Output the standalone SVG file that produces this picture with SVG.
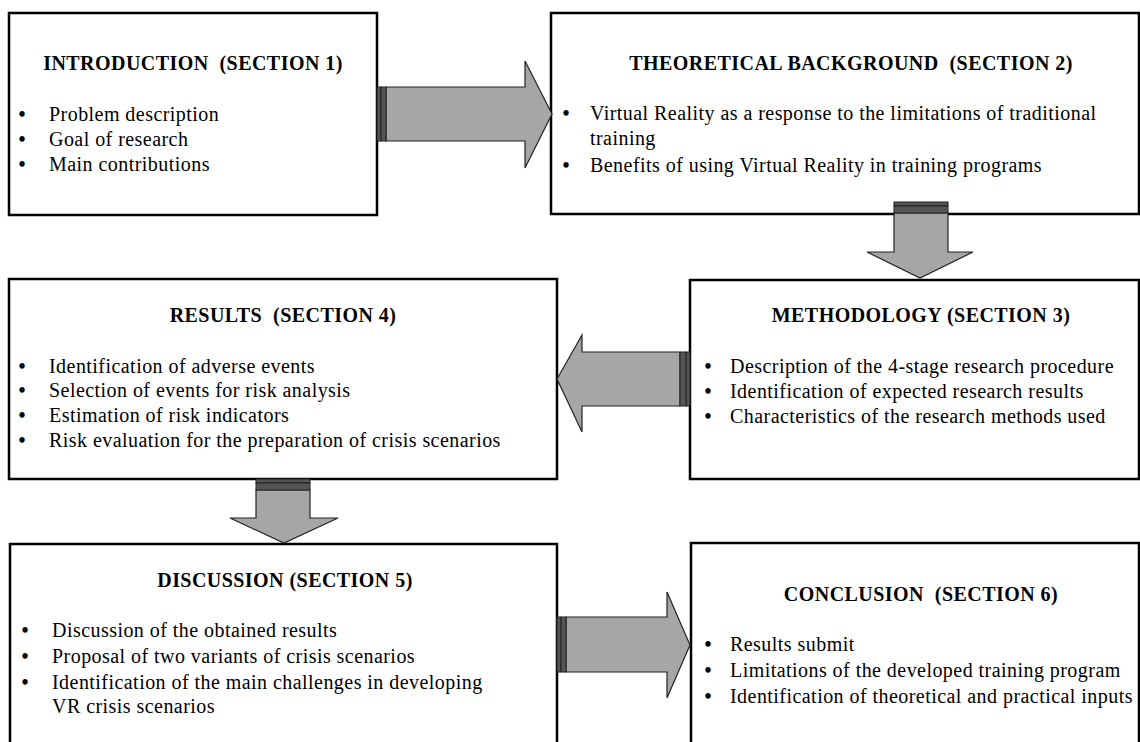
<svg xmlns="http://www.w3.org/2000/svg" width="1140" height="742" viewBox="0 0 1140 742">
<style>
.box{fill:#fff;stroke:#000;stroke-width:2.5}
.t{font-family:"Liberation Serif","Times New Roman",serif;font-size:20px;letter-spacing:0.45px;fill:#000}
.b{font-family:"Liberation Serif","Times New Roman",serif;font-size:20px;font-weight:bold;fill:#000;text-anchor:middle}
.h{font-family:"Liberation Serif","Times New Roman",serif;font-size:20px;letter-spacing:0.45px;font-weight:bold;fill:#000;text-anchor:middle}
.arr{fill:#a6a6a6;stroke:#222;stroke-width:1.2}
.st{fill:#555;stroke:#222;stroke-width:1}
</style>
<rect width="1140" height="742" fill="#fff"/>
<g id="n1">
<rect class="box" x="9" y="13" width="368" height="202"/>
<text class="h" x="193" y="70">INTRODUCTION &#160;(SECTION 1)</text>
<text class="b" x="22" y="121">•</text><text class="t" x="49" y="121">Problem description</text>
<text class="b" x="22" y="146">•</text><text class="t" x="49" y="146">Goal of research</text>
<text class="b" x="22" y="171">•</text><text class="t" x="49" y="171">Main contributions</text>
</g>
<g id="n2">
<rect class="box" x="551" y="13" width="588" height="201"/>
<text class="h" x="851" y="70">THEORETICAL BACKGROUND &#160;(SECTION 2)</text>
<text class="b" x="566" y="120">•</text><text class="t" x="590" y="120">Virtual Reality as a response to the limitations of traditional</text>
<text class="t" x="590" y="145">training</text>
<text class="b" x="566" y="172">•</text><text class="t" x="590" y="172">Benefits of using Virtual Reality in training programs</text>
</g>
<g id="n3">
<rect class="box" x="9" y="279" width="548" height="200"/>
<text class="h" x="283" y="322">RESULTS &#160;(SECTION 4)</text>
<text class="b" x="22" y="373">•</text><text class="t" x="49" y="373">Identification of adverse events</text>
<text class="b" x="22" y="397">•</text><text class="t" x="49" y="397">Selection of events for risk analysis</text>
<text class="b" x="22" y="422">•</text><text class="t" x="49" y="422">Estimation of risk indicators</text>
<text class="b" x="22" y="447">•</text><text class="t" x="49" y="447">Risk evaluation for the preparation of crisis scenarios</text>
</g>
<g id="n4">
<rect class="box" x="690" y="280" width="449" height="199"/>
<text class="h" x="921" y="322">METHODOLOGY (SECTION 3)</text>
<text class="b" x="708" y="373">•</text><text class="t" x="730" y="373">Description of the 4-stage research procedure</text>
<text class="b" x="708" y="398">•</text><text class="t" x="730" y="398">Identification of expected research results</text>
<text class="b" x="708" y="423">•</text><text class="t" x="730" y="423">Characteristics of the research methods used</text>
</g>
<g id="n5">
<rect class="box" x="10" y="544" width="547" height="210"/>
<text class="h" x="285" y="587">DISCUSSION (SECTION 5)</text>
<text class="b" x="25" y="637">•</text><text class="t" x="52" y="637">Discussion of the obtained results</text>
<text class="b" x="25" y="663">•</text><text class="t" x="52" y="663">Proposal of two variants of crisis scenarios</text>
<text class="b" x="25" y="689">•</text><text class="t" x="52" y="689">Identification of the main challenges in developing</text>
<text class="t" x="52" y="713">VR crisis scenarios</text>
</g>
<g id="n6">
<rect class="box" x="691" y="543" width="448" height="210"/>
<text class="h" x="921" y="601">CONCLUSION &#160;(SECTION 6)</text>
<text class="b" x="708" y="651">•</text><text class="t" x="730" y="651">Results submit</text>
<text class="b" x="708" y="677">•</text><text class="t" x="730" y="677">Limitations of the developed training program</text>
<text class="b" x="708" y="703">•</text><text class="t" x="730" y="703">Identification of theoretical and practical inputs</text>
</g>
<g id="connectors">
<polygon class="arr" points="386,87 525,87 525,61 552,114 525,168 525,141 386,141"/>
<rect class="st" x="377" y="87" width="4" height="54"/><rect class="st" x="381" y="87" width="5" height="54" fill="#888"/>
<polygon class="arr" points="894,213 948,213 948,252 973,252 920,278 867,252 894,252"/>
<rect class="st" x="894" y="202" width="54" height="4"/><rect class="st" x="894" y="206" width="54" height="7" fill="#888"/>
<polygon class="arr" points="680,352 582,352 582,335 557,379 582,432 582,406 680,406"/>
<rect class="st" x="686" y="352" width="4" height="54"/><rect class="st" x="680" y="352" width="6" height="54" fill="#888"/>
<polygon class="arr" points="256,490 310,490 310,518 338,518 284,543 230,518 256,518"/>
<rect class="st" x="256" y="479" width="54" height="4"/><rect class="st" x="256" y="483" width="54" height="7" fill="#888"/>
<polygon class="arr" points="566,617 667,617 667,592 690,645 667,698 667,672 566,672"/>
<rect class="st" x="557" y="617" width="4" height="55"/><rect class="st" x="561" y="617" width="5" height="55" fill="#888"/>
</g>
</svg>
